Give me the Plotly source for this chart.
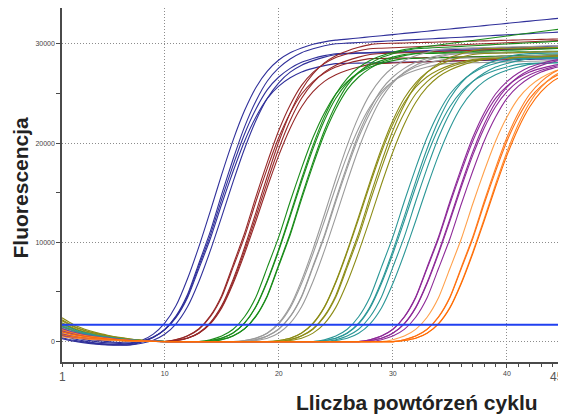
import plotly.graph_objects as go

# ---------------- data (fluorescence per cycle) ----------------
cycles = [1, 2, 3, 4, 5, 6, 7, 8, 9, 10, 11, 12, 13, 14, 15, 16, 17, 18, 19, 20,
          21, 22, 23, 24, 25, 26, 27, 28, 29, 30, 31, 32, 33, 34, 35, 36, 37, 38, 39, 40,
          41, 42, 43, 44, 45]

blue_curves = [
    [600, 300, 50, -150, -250, -300, -160, 140, 760, 1860, 3630, 6330, 9570, 13150, 16850, 20300, 23270, 25600, 27240, 28360,
     29090, 29570, 29940, 30190, 30360, 30470, 30580, 30700, 30810, 30920, 31040, 31150, 31260, 31380, 31490, 31600, 31710, 31830, 31940, 32050,
     32170, 32280, 32390, 32500, 32620],
    [400, 150, -50, -200, -300, -320, -300, -40, 420, 1220, 2590, 4740, 7890, 11100, 14850, 18390, 21630, 24240, 26250, 27570,
     28470, 29100, 29490, 29790, 30000, 30060, 30120, 30180, 30240, 30300, 30360, 30420, 30480, 30540, 30600, 30660, 30720, 30780, 30840, 30900,
     30960, 31020, 31080, 31140, 31200],
    [800, 450, 200, 0, -120, -180, -200, 20, 450, 1210, 2520, 4580, 7630, 10730, 14360, 17780, 20910, 23430, 25380, 26650,
     27520, 28130, 28510, 28800, 29000, 29040, 29080, 29120, 29160, 29200, 29240, 29280, 29320, 29360, 29400, 29440, 29480, 29520, 29560, 29600,
     29640, 29680, 29720, 29760, 29800],
    [300, 50, -120, -250, -330, -350, -330, -160, 150, 750, 1800, 3510, 6060, 9160, 12590, 16120, 19430, 22270, 24510, 26070,
     27140, 27840, 28300, 28650, 28910, 29010, 29040, 29070, 29100, 29130, 29160, 29190, 29220, 29250, 29280, 29310, 29340, 29370, 29400, 29430,
     29460, 29490, 29520, 29550, 29580],
    [1000, 650, 350, 150, 0, -80, -120, 80, 470, 1180, 2440, 4420, 7360, 10360, 13860, 17160, 20190, 22620, 24500, 25730,
     26570, 27160, 27520, 27800, 28000, 28030, 28050, 28080, 28100, 28130, 28150, 28180, 28200, 28230, 28250, 28280, 28300, 28330, 28350, 28380,
     28400, 28430, 28450, 28480, 28500],
]

red_curves = [
    [1200, 865, 625, 455, 325, 215, 130, 70, 35, 10,
     207, 590, 1300, 2600, 4660, 7760, 10920, 14600, 18080, 21270, 23840, 25810, 27110, 28000, 28620, 29000, 29290, 29500,
     29550, 29600, 29650, 29700, 29750, 29800, 29850, 29900, 29950, 30000, 30050, 30100, 30150, 30200, 30250, 30300, 30350],
    [900, 650, 470, 340, 245, 160, 100, 55, 25, 10,
     120, 360, 900, 1920, 3630, 6270, 9480, 13020, 16680, 20100, 23040, 25350, 26970, 28080, 28800, 29280, 29640, 29910, 30020,
     30050, 30080, 30110, 30140, 30170, 30200, 30230, 30260, 30290, 30320, 30350, 30380, 30410, 30440, 30470, 30500],
    [1500, 1080, 780, 570, 405, 270, 165, 90, 45, 15,
     116, 348, 870, 1860, 3510, 6060, 9160, 12590, 16120, 19430, 22270, 24510, 26070, 27140, 27840, 28300, 28650, 28910, 29020,
     29060, 29100, 29140, 29180, 29220, 29260, 29300, 29340, 29380, 29420, 29460, 29500, 29540, 29580, 29620, 29660],
    [700, 505, 365, 265, 190, 125, 75, 40, 20, 5,
     200, 570, 1250, 2510, 4500, 7500, 10550, 14110, 17470, 20550, 23030, 24940, 26190, 27050, 27650, 28020, 28300, 28500,
     28520, 28540, 28560, 28580, 28600, 28620, 28640, 28660, 28680, 28700, 28720, 28740, 28760, 28780, 28800, 28820, 28840],
    [1000, 720, 520, 380, 270, 180, 110, 60, 30, 10,
     112, 336, 840, 1790, 3390, 5850, 8850, 12150, 15570, 18760, 21500, 23660, 25170, 26210, 26880, 27330, 27660, 27920, 28020,
     28060, 28100, 28140, 28180, 28220, 28260, 28300, 28340, 28380, 28420, 28460, 28500, 28540, 28580, 28620, 28660],
]

green_curves = [
    [1800, 1295, 935, 685, 485, 325, 200, 110, 55, 20,
     0, 0, 0,
     118, 354, 885, 1890, 3570, 6170, 9320, 12800, 16400, 19770, 22660, 24930, 26520, 27610, 28320, 28790, 29150, 29410, 29580,
     29730, 29880, 30030, 30180, 30330, 30480, 30630, 30780, 30930, 31080, 31230, 31380, 31530],
    [1300, 935, 675, 495, 350, 235, 145, 80, 40, 15,
     0, 0, 0, 0,
     207, 590, 1300, 2600, 4660, 7760, 10920, 14600, 18080, 21270, 23840, 25810, 27110, 28000, 28620, 29000, 29290, 29500,
     29560, 29620, 29680, 29740, 29800, 29860, 29920, 29980, 30040, 30100, 30160, 30220, 30280],
    [1000, 720, 520, 380, 270, 180, 110, 60, 30, 10,
     0, 0, 0,
     116, 348, 870, 1860, 3510, 6060, 9160, 12590, 16120, 19430, 22270, 24510, 26070, 27140, 27840, 28300, 28650, 28910, 29020,
     29060, 29100, 29140, 29180, 29220, 29260, 29300, 29340, 29380, 29420, 29460, 29500, 29540],
    [1500, 1080, 780, 570, 405, 270, 165, 90, 45, 15,
     0, 0, 0,
     200, 570, 1250, 2510, 4500, 7500, 10550, 14110, 17470, 20550, 23030, 24940, 26190, 27050, 27650, 28020, 28300, 28500,
     28530, 28560, 28590, 28620, 28650, 28680, 28710, 28740, 28770, 28800, 28830, 28860, 28890, 28920],
    [700, 505, 365, 265, 190, 125, 75, 40, 20, 5,
     0, 0, 0, 0,
     203, 580, 1280, 2550, 4580, 7630, 10730, 14360, 17780, 20910, 23430, 25380, 26650, 27520, 28130, 28510, 28800, 29000,
     29020, 29040, 29060, 29080, 29100, 29120, 29140, 29160, 29180, 29200, 29220, 29240, 29260],
]

gray_curves = [
    [1400, 1010, 730, 530, 380, 250, 155, 85, 40, 15,
     0, 0, 0, 0, 0, 0,
     118, 354, 885, 1890, 3570, 6170, 9320, 12800, 16400, 19770, 22660, 24930, 26520, 27610, 28320, 28790, 29150, 29410, 29520,
     29550, 29580, 29610, 29640, 29670, 29700, 29730, 29760, 29790, 29820],
    [1600, 1150, 830, 610, 430, 290, 175, 95, 50, 15,
     0, 0, 0, 0, 0, 0, 0,
     203, 580, 1280, 2550, 4580, 7630, 10730, 14360, 17780, 20910, 23430, 25380, 26650, 27520, 28130, 28510, 28800, 29000,
     29020, 29040, 29060, 29080, 29100, 29120, 29140, 29160, 29180, 29200],
    [1100, 790, 570, 420, 300, 200, 120, 65, 35, 10,
     0, 0, 0, 0, 0, 0, 0,
     200, 570, 1250, 2510, 4500, 7500, 10550, 14110, 17470, 20550, 23030, 24940, 26190, 27050, 27650, 28020, 28300, 28500,
     28540, 28580, 28620, 28660, 28700, 28740, 28780, 28820, 28860, 28900],
    [900, 650, 470, 340, 245, 160, 100, 55, 25, 10,
     0, 0, 0, 0, 0, 0, 0,
     116, 348, 870, 1860, 3510, 6060, 9160, 12590, 16120, 19430, 22270, 24510, 26070, 27140, 27840, 28300, 28650, 28910, 29010,
     29030, 29050, 29070, 29090, 29110, 29130, 29150, 29170, 29190],
    [1300, 935, 675, 495, 350, 235, 145, 80, 40, 15,
     0, 0, 0, 0, 0, 0,
     112, 336, 840, 1790, 3390, 5850, 8850, 12150, 15570, 18760, 21500, 23660, 25170, 26210, 26880, 27330, 27660, 27920, 28020,
     28050, 28080, 28110, 28140, 28170, 28200, 28230, 28260, 28290, 28320],
]

olive_curves = [
    [2400, 1730, 1250, 910, 650, 430, 265, 145, 70, 25,
     0, 0, 0, 0, 0, 0, 0, 0, 0,
     116, 348, 870, 1860, 3510, 6060, 9160, 12590, 16120, 19430, 22270, 24510, 26070, 27140, 27840, 28300, 28650, 28910, 29020,
     29050, 29080, 29110, 29140, 29170, 29200, 29230],
    [2100, 1510, 1090, 800, 565, 380, 230, 125, 65, 20,
     0, 0, 0, 0, 0, 0, 0, 0, 0, 0,
     207, 590, 1300, 2600, 4660, 7760, 10920, 14600, 18080, 21270, 23840, 25810, 27110, 28000, 28620, 29000, 29290, 29500,
     29520, 29540, 29560, 29580, 29600, 29620, 29640],
    [1900, 1370, 990, 720, 515, 340, 210, 115, 55, 20,
     0, 0, 0, 0, 0, 0, 0, 0, 0, 0,
     200, 570, 1250, 2510, 4500, 7500, 10550, 14110, 17470, 20550, 23030, 24940, 26190, 27050, 27650, 28020, 28300, 28500,
     28530, 28560, 28590, 28620, 28650, 28680, 28710],
    [1600, 1150, 830, 610, 430, 290, 175, 95, 50, 15,
     0, 0, 0, 0, 0, 0, 0, 0, 0, 0,
     114, 342, 855, 1820, 3450, 5960, 9010, 12370, 15850, 19100, 21890, 24080, 25620, 26680, 27360, 27820, 28160, 28420, 28520,
     28560, 28600, 28640, 28680, 28720, 28760],
    [2200, 1585, 1145, 835, 595, 395, 240, 130, 65, 20,
     0, 0, 0, 0, 0, 0, 0, 0, 0,
     114, 342, 855, 1820, 3450, 5960, 9010, 12370, 15850, 19100, 21890, 24080, 25620, 26680, 27360, 27820, 28160, 28420, 28520,
     28560, 28600, 28640, 28680, 28720, 28760, 28800],
]

teal_curves = [
    [1700, 1225, 885, 645, 460, 305, 185, 100, 50, 15,
     0, 0, 0, 0, 0, 0, 0, 0, 0, 0, 0, 0, 0,
     200, 570, 1250, 2510, 4500, 7500, 10550, 14110, 17470, 20550, 23030, 24940, 26190, 27050, 27650, 28020, 28300, 28500,
     28530, 28560, 28590, 28620],
    [1300, 935, 675, 495, 350, 235, 145, 80, 40, 15,
     0, 0, 0, 0, 0, 0, 0, 0, 0, 0, 0, 0, 0,
     116, 348, 870, 1860, 3510, 6060, 9160, 12590, 16120, 19430, 22270, 24510, 26070, 27140, 27840, 28300, 28650, 28910, 29010,
     29030, 29050, 29070],
    [1100, 790, 570, 420, 300, 200, 120, 65, 35, 10,
     0, 0, 0, 0, 0, 0, 0, 0, 0, 0, 0, 0, 0,
     112, 336, 840, 1790, 3390, 5850, 8850, 12150, 15570, 18760, 21500, 23660, 25170, 26210, 26880, 27330, 27660, 27920, 28020,
     28050, 28080, 28110],
    [1500, 1080, 780, 570, 405, 270, 165, 90, 45, 15,
     0, 0, 0, 0, 0, 0, 0, 0, 0, 0, 0, 0, 0, 0,
     200, 570, 1250, 2510, 4500, 7500, 10550, 14110, 17470, 20550, 23030, 24940, 26190, 27050, 27650, 28020, 28300, 28500,
     28520, 28540, 28560],
    [900, 650, 470, 340, 245, 160, 100, 55, 25, 10,
     0, 0, 0, 0, 0, 0, 0, 0, 0, 0, 0, 0, 0, 0,
     112, 336, 840, 1790, 3390, 5850, 8850, 12150, 15570, 18760, 21500, 23660, 25170, 26210, 26880, 27330, 27660, 27920, 28020,
     28060, 28100],
]

purple_curves = [
    [1000, 720, 520, 380, 270, 180, 110, 60, 30, 10,
     0, 0, 0, 0, 0, 0, 0, 0, 0, 0, 0, 0, 0, 0, 0, 0, 0,
     200, 570, 1250, 2510, 4500, 7500, 10550, 14110, 17470, 20550, 23030, 24940, 26190, 27050, 27650, 28020, 28300, 28500],
    [1300, 935, 675, 495, 350, 235, 145, 80, 40, 15,
     0, 0, 0, 0, 0, 0, 0, 0, 0, 0, 0, 0, 0, 0, 0, 0, 0,
     196, 560, 1230, 2460, 4420, 7360, 10360, 13860, 17160, 20190, 22620, 24500, 25730, 26570, 27160, 27520, 27800, 28000],
    [800, 575, 415, 305, 215, 145, 90, 50, 25, 10,
     0, 0, 0, 0, 0, 0, 0, 0, 0, 0, 0, 0, 0, 0, 0, 0, 0,
     114, 342, 855, 1820, 3450, 5960, 9010, 12370, 15850, 19100, 21890, 24080, 25620, 26680, 27360, 27820, 28160, 28420],
    [1100, 790, 570, 420, 300, 200, 120, 65, 35, 10,
     0, 0, 0, 0, 0, 0, 0, 0, 0, 0, 0, 0, 0, 0, 0, 0, 0,
     112, 336, 840, 1790, 3390, 5850, 8850, 12150, 15570, 18760, 21500, 23660, 25170, 26210, 26880, 27330, 27660, 27920],
    [600, 430, 310, 230, 160, 110, 65, 35, 20, 5,
     0, 0, 0, 0, 0, 0, 0, 0, 0, 0, 0, 0, 0, 0, 0, 0, 0, 0,
     196, 560, 1230, 2460, 4420, 7360, 10360, 13860, 17160, 20190, 22620, 24500, 25730, 26570, 27160, 27520, 27800],
]

orange_curves = [
    [900, 650, 470, 340, 245, 160, 100, 55, 25, 10,
     0, 0, 0, 0, 0, 0, 0, 0, 0, 0, 0, 0, 0, 0, 0, 0, 0, 0, 0,
     196, 560, 1230, 2460, 4420, 7360, 10360, 13860, 17160, 20190, 22620, 24500, 25730, 26570, 27160, 27520],
    [1200, 865, 625, 455, 325, 215, 130, 70, 35, 10,
     0, 0, 0, 0, 0, 0, 0, 0, 0, 0, 0, 0, 0, 0, 0, 0, 0, 0, 0, 0,
     200, 570, 1250, 2510, 4500, 7500, 10550, 14110, 17470, 20550, 23030, 24940, 26190, 27050, 27650],
    [700, 505, 365, 265, 190, 125, 75, 40, 20, 5,
     0, 0, 0, 0, 0, 0, 0, 0, 0, 0, 0, 0, 0, 0, 0, 0, 0, 0, 0, 0,
     196, 560, 1230, 2460, 4420, 7360, 10360, 13860, 17160, 20190, 22620, 24500, 25730, 26570, 27160],
    [500, 360, 260, 190, 135, 90, 55, 30, 15, 5,
     0, 0, 0, 0, 0, 0, 0, 0, 0, 0, 0, 0, 0, 0, 0, 0, 0, 0, 0, 0,
     114, 342, 855, 1820, 3450, 5960, 9010, 12370, 15850, 19100, 21890, 24080, 25620, 26680, 27360],
    [1000, 720, 520, 380, 270, 180, 110, 60, 30, 10,
     0, 0, 0, 0, 0, 0, 0, 0, 0, 0, 0, 0, 0, 0, 0, 0, 0, 0, 0, 0,
     112, 336, 840, 1790, 3390, 5850, 8850, 12150, 15570, 18760, 21500, 23660, 25170, 26210, 26880],
]

threshold_value = 1700
x_tick_values = [10, 20, 30, 40]
x_tick_text = ["10", "20", "30", "40"]
y_tick_values = [0, 10000, 20000, 30000]
y_tick_text = ["0", "10000", "20000", "30000"]
x_title = "Lliczba powtórzeń cyklu"
y_title = "Fluorescencja"

# ---------------- styling ----------------
groups = [
    (blue_curves, ["#30309a"] * 5),
    (red_curves, ["#962828"] * 5),
    (green_curves, ["#1a8c1a"] * 5),
    (gray_curves, ["#9a9a9a"] * 5),
    (olive_curves, ["#8c8c16"] * 5),
    (teal_curves, ["#2a9696"] * 5),
    (purple_curves, ["#8e2a98"] * 5),
    (orange_curves, ["#ffa04a", "#ff7f24", "#ff7010", "#ff8a30", "#ff6a00"]),
]

for curves, _ in groups:
    for c in curves:
        assert len(c) == len(cycles), len(c)

fig = go.Figure()
for curves, colors in groups:
    for ys, col in zip(curves, colors):
        fig.add_trace(go.Scatter(
            x=cycles, y=ys, mode="lines",
            line=dict(color=col, width=1.1, shape="spline", smoothing=0.6),
            hoverinfo="skip", showlegend=False))

# threshold line
fig.add_trace(go.Scatter(x=[cycles[0], cycles[-1]], y=[threshold_value, threshold_value],
                         mode="lines", line=dict(color="#2040f0", width=2),
                         hoverinfo="skip", showlegend=False))
# right-hand marker line at the last cycle
fig.add_trace(go.Scatter(x=[cycles[-1], cycles[-1]], y=[-2050, 32700],
                         mode="lines", line=dict(color="#3b8eff", width=4),
                         hoverinfo="skip", showlegend=False))

axis_col = "#4a4a4a"
tick_font = dict(family="Liberation Sans, Arial, sans-serif", size=7, color="#444444")
grid_style = dict(showgrid=True, gridcolor="#8c8c8c", griddash="1px,2px", gridwidth=1)

# the page body adds an 8 px offset; the figure is sized to fill the rest of the window
fig.update_layout(
    width=558, height=406,
    margin=dict(l=54, r=2, t=0, b=52),
    paper_bgcolor="white", plot_bgcolor="white",
    showlegend=False,
    xaxis=dict(
        range=[1, 45], tickmode="array", tickvals=x_tick_values, ticktext=x_tick_text,
        ticks="outside", ticklen=4, tickcolor=axis_col, tickwidth=1,
        tickfont=tick_font,
        showline=True, linecolor=axis_col, linewidth=1.5,
        zeroline=False, automargin=False,
        minor=dict(dtick=1, tick0=0, ticks="outside", ticklen=3, tickcolor=axis_col, showgrid=False),
        **grid_style,
    ),
    yaxis=dict(
        range=[-2050, 33600], tickmode="array", tickvals=y_tick_values, ticktext=y_tick_text,
        ticks="outside", ticklen=4, tickcolor=axis_col, tickwidth=1,
        tickfont=tick_font,
        showline=True, linecolor=axis_col, linewidth=1.5,
        zeroline=False, automargin=False,
        minor=dict(dtick=5000, tick0=0, ticks="outside", ticklen=4, tickcolor=axis_col, showgrid=False),
        **grid_style,
    ),
)

title_font = dict(family="Liberation Sans, Arial, sans-serif", size=21, color="#222222")
end_font = dict(family="Liberation Sans, Arial, sans-serif", size=12, color="#555555")
fig.add_annotation(text="<b>" + y_title + "</b>", xref="paper", yref="paper",
                   x=-0.083, y=0.494, textangle=-90, showarrow=False,
                   xanchor="center", yanchor="middle", font=title_font)
fig.add_annotation(text="<b>" + x_title + "</b>", xref="paper", yref="paper",
                   x=0.707, y=-0.113, showarrow=False,
                   xanchor="center", yanchor="middle", font=title_font)
fig.add_annotation(text=str(cycles[0]), xref="paper", yref="paper", x=0.0, y=-0.0424,
                   showarrow=False, xanchor="center", yanchor="middle", font=end_font)
fig.add_annotation(text=str(cycles[-1]), xref="paper", yref="paper", x=1.004, y=-0.0424,
                   showarrow=False, xanchor="right", yanchor="middle", font=end_font)

fig.write_html("out.html")
